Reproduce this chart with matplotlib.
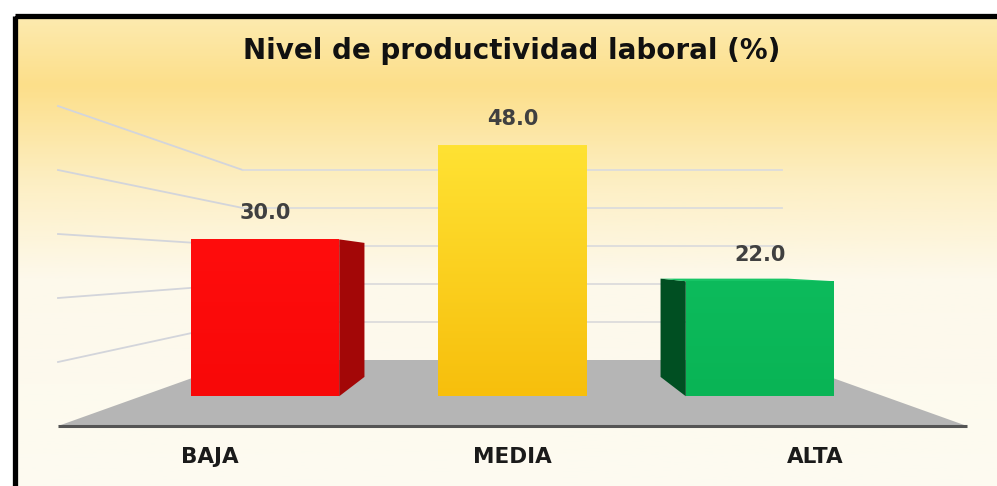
import numpy as np
import matplotlib
matplotlib.use('Agg')
import matplotlib.pyplot as plt
from matplotlib.patches import Polygon, Rectangle
from matplotlib.colors import LinearSegmentedColormap

categories = ['BAJA', 'MEDIA', 'ALTA']
values = [30.0, 48.0, 22.0]
grid_values = [10, 20, 30, 40, 50]
title = 'Nivel de productividad laboral (%)'

front_top = ['#FF0D0D', '#FFE233', '#0DBB5C']
front_bottom = ['#F80808', '#F7BF0C', '#09B455']
side_colors = ['#A30707', '#E0A800', '#004F22']
top_colors = ['#FF3030', '#FFE640', '#17C566']

# one-point perspective, everything in data units (x = category, v = value)
VX, VV = 1.0, 25.4
F_WALL = 0.594
F_BAR = (0.817, 0.698)
HALF = 0.3


def proj(x, v, f):
    return (VX + f * (x - VX), VV + f * (v - VV))


def gradient_poly(ax, poly, c_top, c_bottom, z):
    patch = Polygon(poly, closed=True, fc='none', ec='none', clip_on=False)
    ax.add_patch(patch)
    xs, ys = zip(*poly)
    cmap = LinearSegmentedColormap.from_list('g', [c_bottom, c_top])
    im = ax.imshow(np.linspace(0, 1, 200).reshape(-1, 1), cmap=cmap,
                   extent=[min(xs), max(xs), min(ys), max(ys)],
                   origin='lower', aspect='auto', zorder=z)
    im.set_clip_path(patch)


W, H = 997, 486
fig = plt.figure(figsize=(W / 100, H / 100), dpi=100)
fig.patch.set_facecolor('white')

# background panel with a soft yellow gradient
bg = fig.add_axes([0, 0, 1, 1], zorder=0)
bg.set_xlim(0, W)
bg.set_ylim(H, 0)
bg.axis('off')
stops = [(0.0, '#FDEAAE'), (0.14, '#FCDF8A'), (0.35, '#FDEFC4'),
         (0.55, '#FDF9EB'), (1.0, '#FDFBF1')]
bg_cmap = LinearSegmentedColormap.from_list('bg', stops)
bg.imshow(np.linspace(0, 1, 300).reshape(-1, 1), cmap=bg_cmap,
          extent=[17, W + 5, H + 5, 19], aspect='auto', zorder=0)
bg.add_patch(Rectangle((14.5, 16.5), W + 20, H + 20, fill=False,
                       ec='black', lw=3.8, zorder=2))
bg.set_xlim(0, W)
bg.set_ylim(H, 0)

ax = fig.add_axes([58 / W, 1 - 426 / H, 909 / W, 320 / H], zorder=1)
ax.set_xlim(-0.5, 2.5)
ax.set_ylim(0, 50)
ax.axis('off')

x_left, x_right = -0.5, len(categories) - 0.5

# floor
floor = [proj(x_left, 0, 1), proj(x_right, 0, 1),
         proj(x_right, 0, F_WALL), proj(x_left, 0, F_WALL)]
ax.add_patch(Polygon(floor, closed=True, fc='#B5B5B5', ec='none',
                     zorder=1, clip_on=False))
ax.plot([x_left, x_right], [0, 0], color='#555555', lw=2.2,
        zorder=2, clip_on=False, solid_capstyle='butt')

# gridlines on back wall and left wall
for g in grid_values:
    p0 = proj(x_left, g, 1)
    p1 = proj(x_left, g, F_WALL)
    p2 = proj(x_right, g, F_WALL)
    ax.plot([p0[0], p1[0]], [p0[1], p1[1]], color='#D3D5DB', lw=1.3,
            zorder=1, clip_on=False)
    ax.plot([p1[0], p2[0]], [p1[1], p2[1]], color='#DCDCDC', lw=1.3,
            zorder=1, clip_on=False)

# bars (only faces that face the viewer)
fa, fb = F_BAR
for i, v in enumerate(values):
    x0, x1 = i - HALF, i + HALF
    if x0 > VX:
        left = [proj(x0, 0, fa), proj(x0, v, fa), proj(x0, v, fb), proj(x0, 0, fb)]
        ax.add_patch(Polygon(left, closed=True, fc=side_colors[i], ec='none',
                             zorder=3, clip_on=False))
    if x1 < VX:
        right = [proj(x1, 0, fa), proj(x1, v, fa), proj(x1, v, fb), proj(x1, 0, fb)]
        ax.add_patch(Polygon(right, closed=True, fc=side_colors[i], ec='none',
                             zorder=3, clip_on=False))
    if v < VV:
        top = [proj(x0, v, fa), proj(x1, v, fa), proj(x1, v, fb), proj(x0, v, fb)]
        ax.add_patch(Polygon(top, closed=True, fc=top_colors[i], ec='none',
                             zorder=3, clip_on=False))
    front = [proj(x0, 0, fa), proj(x1, 0, fa), proj(x1, v, fa), proj(x0, v, fa)]
    gradient_poly(ax, front, front_top[i], front_bottom[i], 4)

    ax.annotate(f'{v:.1f}', xy=proj(i, v, fa), xytext=(0, 12),
                textcoords='offset points', ha='center', va='bottom',
                fontsize=15, fontweight='bold', color='#404040',
                family='DejaVu Sans', zorder=6, annotation_clip=False)

for i, cat in enumerate(categories):
    ax.annotate(cat, xy=(i, 0), xytext=(0, -22), textcoords='offset points',
                ha='center', va='center', fontsize=15.5, fontweight='bold',
                color='#1A1A1A', family='DejaVu Sans', annotation_clip=False)

ax.set_xlim(-0.5, 2.5)
ax.set_ylim(0, 50)

fig.text(512 / W, 1 - 51 / H, title, ha='center', va='center',
         fontsize=20, fontweight='bold', color='#111111',
         family='DejaVu Sans')

fig.savefig('out.png', dpi=100)
